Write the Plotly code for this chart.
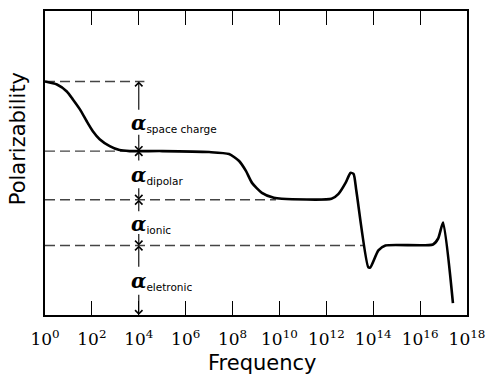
import plotly.graph_objects as go

# ---- data ----
log_freq = [0, 0.51, 0.93, 1.19, 1.49, 1.78, 2.04, 2.33, 2.76, 3.18, 3.61, 5.0, 7.0,
            7.85, 8.28, 8.57, 8.83, 9.25, 9.76, 10.1, 12.22, 12.52, 12.82, 13.03,
            13.16, 13.28, 13.79, 13.88, 14.22, 14.52, 16.55, 16.77, 16.98, 17.40]
polarizability = [235, 232, 225, 217, 207, 195, 185, 177, 170, 166, 165, 165, 164,
                  162, 155, 145, 133, 123, 118, 117, 117, 122, 133, 143,
                  142, 125, 48, 48, 65, 70, 71, 77, 93, 12]

levels = [235, 165, 116, 70]            # total, after space charge, after dipolar, after ionic
level_ends = [4.24, 3.6, 9.85, 13.6]    # where each dashed guide line stops (log10 f)
labels = ["space charge", "dipolar", "ionic", "eletronic"]
label_y = [193, 141, 92, 34]
arrow_up_tail = [205, 154, 103, 47]
arrow_down_tail = [183, 129, 83, 22]
segment_bottom = [165, 116, 70, 0]

tick_exp = [0, 2, 4, 6, 8, 10, 12, 14, 16, 18]
tick_vals = [10 ** e for e in tick_exp]
tick_text = ["10<sup>%d</sup>" % e for e in tick_exp]

freq = [10 ** v for v in log_freq]

fig = go.Figure()
fig.add_trace(go.Scatter(x=freq, y=polarizability, mode="lines",
                         line=dict(color="black", width=2.6, shape="spline", smoothing=0.6),
                         hoverinfo="skip", showlegend=False))

shapes = []
for lv, end in zip(levels, level_ends):
    shapes.append(dict(type="line", xref="x", yref="y", x0=1, x1=10 ** end, y0=lv, y1=lv,
                       line=dict(color="#444", width=1.4, dash="10px,5px"), layer="below"))

annotations = []
arrow_x = 4
for i, name in enumerate(labels):
    top = levels[i]
    bot = segment_bottom[i]
    annotations.append(dict(x=arrow_x, y=top, ax=arrow_x, ay=arrow_up_tail[i], xref="x", yref="y",
                            axref="x", ayref="y", text="", showarrow=True, arrowhead=4,
                            arrowsize=1.3, arrowwidth=1.1, arrowcolor="black", standoff=0))
    annotations.append(dict(x=arrow_x, y=bot, ax=arrow_x, ay=arrow_down_tail[i], xref="x", yref="y",
                            axref="x", ayref="y", text="", showarrow=True, arrowhead=4,
                            arrowsize=1.3, arrowwidth=1.1, arrowcolor="black", standoff=0))
    annotations.append(dict(x=3.58, y=label_y[i], xref="x", yref="y", xanchor="left", yanchor="middle",
                            showarrow=False,
                            text='<span style="font-family:DejaVu Serif;font-size:20px"><b><i>α</i></b></span><sub>%s</sub>' % name,
                            font=dict(family="DejaVu Sans", size=15, color="black")))

annotations.append(dict(x=(18 - 45) / 424, y=(315 - 138) / 306, xref="paper", yref="paper", textangle=-90,
                        text="Polarizability", showarrow=False, xanchor="center", yanchor="middle",
                        font=dict(family="DejaVu Sans", size=21, color="black")))
annotations.append(dict(x=(264 - 45) / 424, y=-(363 - 315) / 306, xref="paper", yref="paper",
                        text="Frequency", showarrow=False, xanchor="center", yanchor="middle",
                        font=dict(family="DejaVu Sans", size=21, color="black")))

fig.update_layout(
    width=494, height=376,
    margin=dict(l=45, r=25, t=9, b=61),
    paper_bgcolor="white", plot_bgcolor="white",
    shapes=shapes, annotations=annotations,
    xaxis=dict(type="log", range=[0, 18], tickvals=tick_vals, ticktext=tick_text,
               ticks="inside", ticklen=14, tickwidth=1.3, tickcolor="black",
               showline=True, linewidth=2, linecolor="black", mirror="ticks",
               showgrid=False, zeroline=False, ticklabelstandoff=8,
               tickfont=dict(family="DejaVu Serif", size=17, color="black")),
    yaxis=dict(range=[0, 306], showline=True, linewidth=2, linecolor="black", mirror=True,
               ticks="", showticklabels=False, showgrid=False, zeroline=False),
)

fig.write_html("out.html")
